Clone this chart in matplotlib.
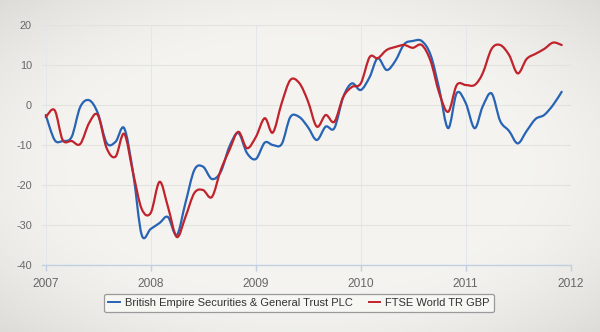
import numpy as np
import pandas as pd
import matplotlib
matplotlib.use("Agg")
import matplotlib.pyplot as plt
import matplotlib.dates as mdates
from matplotlib.path import Path
from matplotlib.patches import PathPatch
from matplotlib.lines import Line2D

# monthly performance (%), Jan 2007 - Dec 2011
months = pd.date_range("2007-01-01", "2011-12-01", freq="MS")

best = [-2.5, -8.75, -9, -8, -0.5, 1.2, -2, -9.5, -9.2, -5.8, -17, -32.5,
        -31, -29.5, -28, -32.5, -24.5, -16.25, -15.4, -18.5, -16.7, -10.4, -7, -12,
        -13.5, -9.4, -10, -9.75, -3, -3, -5.5, -8.75, -5.4, -5.8, 2, 5.4,
        3.75, 7, 11.7, 8.75, 11, 15.2, 16, 16, 12.5, 4, -5.8, 3,
        0.5, -5.8, -0.4, 2.9, -4, -6.5, -9.6, -6.5, -3.5, -2.5, 0, 3.3]

ftse = [-3, -1.3, -8.75, -9, -9.75, -4.5, -2.5, -10.8, -12.9, -7.2, -17, -26,
        -27, -19.2, -25.4, -33, -28, -22, -21.25, -23, -16.25, -11.25, -6.7, -10.8,
        -8, -3.3, -6.9, 0.5, 6.25, 5.5, 1, -5.4, -2.5, -4.2, 2, 4.5,
        5.4, 12, 11.7, 13.75, 14.5, 15, 14.3, 15, 11, 3, -1.7, 5,
        5, 5, 7.9, 14, 15, 12.5, 7.9, 11.5, 12.8, 14, 15.6, 15]

names = ["British Empire Securities & General Trust PLC", "FTSE World TR GBP"]
colors = ["#2864b4", "#c0232b"]

year_ticks = pd.date_range("2007-01-01", "2012-01-01", freq="YS")
y_ticks = [-40, -30, -20, -10, 0, 10, 20]


def spline_path(x, y):
    """ smooth curve through the points (catmull-rom as bezier segments) """
    pts = np.column_stack([x, y])
    ext = np.vstack([pts[0], pts, pts[-1]])
    verts = [pts[0]]
    codes = [Path.MOVETO]
    for i in range(len(pts) - 1):
        p0, p1, p2, p3 = ext[i], ext[i + 1], ext[i + 2], ext[i + 3]
        verts += [p1 + (p2 - p0) / 6, p2 - (p3 - p1) / 6, p2]
        codes += [Path.CURVE4] * 3
    return Path(verts, codes)


plt.rcParams["font.family"] = ["Liberation Sans", "DejaVu Sans"]
plt.rcParams["axes.unicode_minus"] = False

fig = plt.figure(figsize=(6, 3.32), dpi=100)

# paper background with darker edges
h, w = 332, 600
yy, xx = np.mgrid[0:h, 0:w]
r = np.sqrt(((xx - w / 2) / (w / 2)) ** 2 + ((yy - h / 2) / (h / 2)) ** 2)
dark = 0.10 * np.clip((r - 0.75) / 0.7, 0, 1) ** 1.5
base = np.array([0.957, 0.954, 0.942])
bg = np.clip(base[None, None, :] - dark[:, :, None], 0, 1)
fig.figimage(bg, xo=0, yo=0, origin="upper", zorder=-10)

ax = fig.add_axes([0.0695, 0.2018, 0.8815, 0.7229])
ax.set_facecolor("none")

x = mdates.date2num(months)
for vals, col in zip([best, ftse], colors):
    ax.add_patch(PathPatch(spline_path(x, vals), fill=False, edgecolor=col,
                           linewidth=1.6, capstyle="round", joinstyle="round",
                           zorder=3))

ax.set_xlim(mdates.date2num(pd.Timestamp("2006-12-18")),
            mdates.date2num(pd.Timestamp("2012-01-01")))
ax.set_ylim(-40, 20)

ax.set_yticks(y_ticks)
ax.set_xticks(mdates.date2num(year_ticks))
ax.set_xticklabels([str(d.year) for d in year_ticks])

ax.grid(True, axis="y", color="#e2e2de", linewidth=0.8)
ax.grid(True, axis="x", color="#e4e7ea", linewidth=0.7)
ax.set_axisbelow(True)

for s in ["top", "right", "left"]:
    ax.spines[s].set_visible(False)
ax.spines["bottom"].set_color("#c0d0e0")
ax.spines["bottom"].set_linewidth(1.0)

ax.tick_params(axis="y", length=0, pad=7, labelsize=7.8, labelcolor="#666666")
ax.tick_params(axis="x", length=4, width=1, color="#c0d0e0", pad=5,
               labelsize=8.6, labelcolor="#666666")

handles = [Line2D([], [], color=c, linewidth=1.4) for c in colors]
leg = fig.legend(handles, names, loc="center", bbox_to_anchor=(0.4985, 0.0873),
                 ncol=2, fontsize=8.0, handlelength=1.0, handletextpad=0.5,
                 columnspacing=1.4, borderpad=0.4, fancybox=True,
                 framealpha=1, facecolor="#f6f6f3", edgecolor="#9a9a9a",
                 labelcolor="#333333")
leg.get_frame().set_linewidth(0.9)

fig.savefig("out.png", dpi=100)
